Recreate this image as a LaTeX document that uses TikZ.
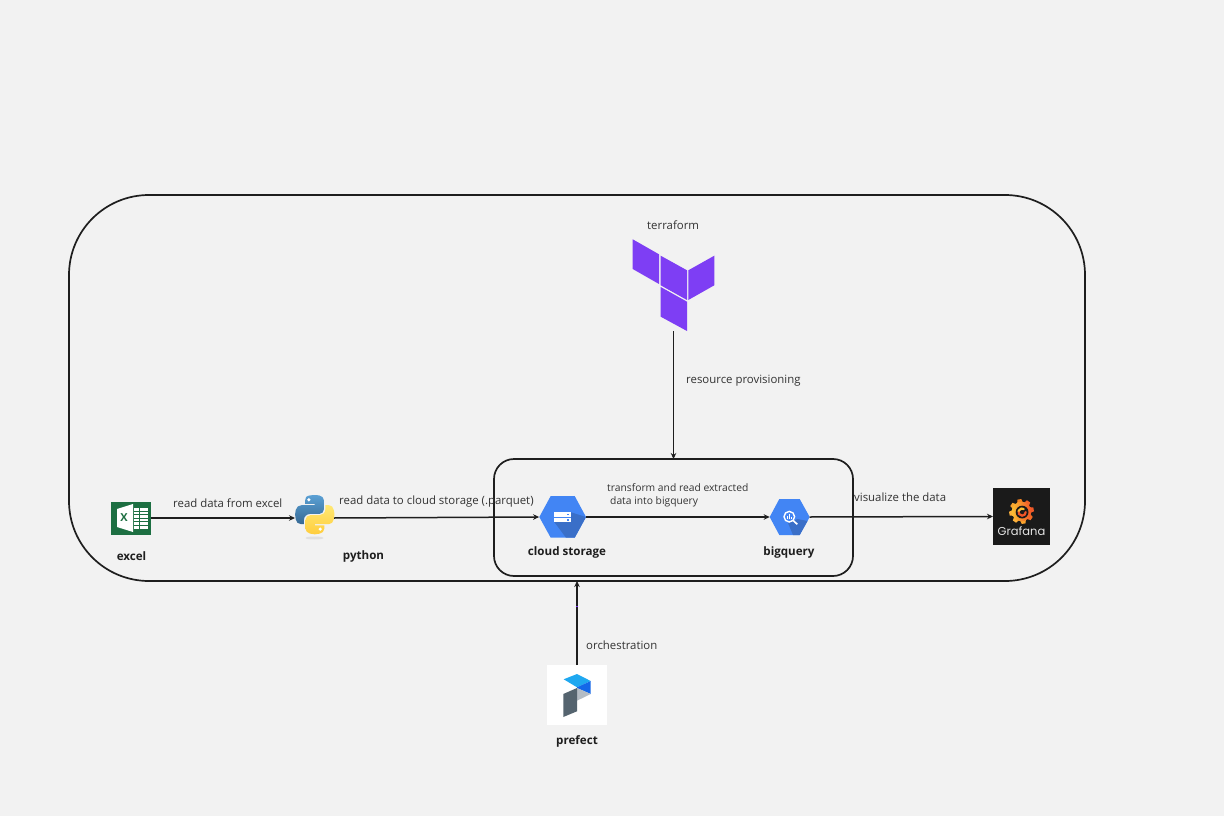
\documentclass[tikz,border=0pt]{standalone}
\usepackage{fontspec}
\setmainfont{Open Sans}
\newfontfamily\gflogo{Poppins}
\usetikzlibrary{arrows.meta}
\definecolor{bgc}{HTML}{F2F2F2}
\definecolor{ink}{HTML}{1E1E1E}
\definecolor{txt}{HTML}{333333}
\definecolor{tfp}{HTML}{7E3EF4}
\definecolor{gblue}{HTML}{4285F4}
\definecolor{gdark}{HTML}{3A6FC8}
\definecolor{xgreen}{HTML}{1D6F42}
\definecolor{gfblack}{HTML}{1A1A1A}
\definecolor{pytop}{HTML}{5AA0D4}
\definecolor{pybot}{HTML}{366994}
\definecolor{yltop}{HTML}{FFE873}
\definecolor{ylbot}{HTML}{FFCD3C}
\definecolor{gfyel}{HTML}{FBBE32}
\definecolor{gfred}{HTML}{F05528}
\definecolor{pfcyan}{HTML}{1FA8F0}
\definecolor{pfblue}{HTML}{1468E8}
\definecolor{pfgrey}{HTML}{55646F}
\definecolor{pflight}{HTML}{B4BCC4}
\tikzset{
  x=1pt,y=-1pt,
  frame/.style={draw=ink,line width=1.7pt,fill=none,inner sep=0pt,outer sep=0pt},
  slot/.style={inner sep=0pt,outer sep=0pt},
  flow/.style={draw=ink,line width=1.5pt,-{Stealth[length=6pt,width=5.5pt]}},
  lbl/.style={font=\fontsize{11.4}{13}\selectfont,text=txt,anchor=west,inner sep=0pt},
  lblsmall/.style={font=\fontsize{10.3}{13}\selectfont,text=txt,anchor=west,inner sep=0pt},
  iconcap/.style={font=\fontsize{11.6}{13}\selectfont\bfseries,text=ink,inner sep=0pt},
}
\begin{document}
\begin{tikzpicture}
\useasboundingbox[fill=bgc] (0,0) rectangle (1224,816);
% frames
\node[frame,rounded corners=80pt,minimum width=1016pt,minimum height=386pt] (outer) at (577,388) {};
\node[frame,rounded corners=20pt,minimum width=359pt,minimum height=117pt] (inner) at (673.5,517.5) {};
% slots for the icons
\node[slot,minimum width=40pt,minimum height=33pt] (excel) at (131,518) {};
\node[slot,minimum width=39pt,minimum height=40pt] (python) at (314.5,518) {};
\node[slot,minimum width=47pt,minimum height=42pt] (gcs) at (562.6,517) {};
\node[slot,minimum width=40pt,minimum height=36pt] (bq) at (789.7,517) {};
\node[slot,fill=gfblack,minimum width=57pt,minimum height=57pt] (grafana) at (1021.5,516.5) {};
\node[slot,fill=white,minimum width=60pt,minimum height=60pt] (prefect) at (577,695) {};
\node[slot,minimum width=82pt,minimum height=92pt] (tf) at (673.5,285) {};
% terraform
\fill[tfp] (632.7,239.3)--(659,254.3)--(659,284)--(632.7,269)--cycle;
\fill[tfp] (660.7,255.7)--(687,270.3)--(687,300)--(660.7,285.3)--cycle;
\fill[tfp] (688.3,270.3)--(714.3,255.7)--(714.3,285.3)--(688.3,300)--cycle;
\fill[tfp] (660.7,287)--(687,301.7)--(687,331)--(660.7,316.7)--cycle;
% excel
\fill[xgreen] (111,502) rectangle (151,534.5);
\fill[white] (117,509)--(133,504)--(133,532)--(117,527)--cycle;
\fill[white] (134,507.5) rectangle (147.5,529);
\foreach \yy in {510.5,514,517.5,521,524.5}{\fill[xgreen] (134,\yy) rectangle (147.5,\yy+1);}
\fill[xgreen] (138.5,507.5) rectangle (139.3,529);
\node[font=\fontsize{11}{11}\selectfont\bfseries,text=xgreen,inner sep=0pt] at (124,518) {X};
% python
\fill[black!12] (314.5,538) ellipse (9pt and 1.5pt);
\begin{scope}[shift={(295,495)},x=0.355pt,y=-0.355pt]
\shade[top color=pytop,bottom color=pybot]
 (54.9,0) .. controls (50.3,0) and (46,0.4) .. (42.1,1.1)
 .. controls (30.7,3.1) and (28.7,7.3) .. (28.7,15) -- (28.7,25.2) -- (55.2,25.2) -- (55.2,28.6) -- (18.7,28.6)
 .. controls (11,28.6) and (4.2,33.2) .. (2.1,42)
 .. controls (-0.3,52) and (-0.4,58.2) .. (2.1,68.6)
 .. controls (4,76.4) and (8.4,81.9) .. (16.1,81.9) -- (25.2,81.9) -- (25.2,69.9)
 .. controls (25.2,61.2) and (32.8,53.5) .. (41.7,53.5) -- (68.2,53.5)
 .. controls (75.6,53.5) and (81.5,47.4) .. (81.5,40) -- (81.5,15)
 .. controls (81.5,7.9) and (75.5,2.5) .. (68.2,1.3)
 .. controls (63.6,0.5) and (58.8,0) .. (54.9,0) -- cycle;
\fill[white] (39,13.5) circle (5);
\shade[top color=yltop,bottom color=ylbot]
 (85.6,28.7) -- (85.6,40.3) .. controls (85.6,49.3) and (78,56.9) .. (69.3,56.9) -- (42.8,56.9)
 .. controls (35.5,56.9) and (29.5,63.1) .. (29.5,70.4) -- (29.5,95.4)
 .. controls (29.5,102.5) and (35.7,106.7) .. (42.8,108.8)
 .. controls (51.2,111.3) and (59.3,111.7) .. (69.3,108.8)
 .. controls (76,106.9) and (82.5,103) .. (82.5,95.4) -- (82.5,85.2) -- (56,85.2) -- (56,81.9) -- (95.8,81.9)
 .. controls (103.5,81.9) and (106.4,76.5) .. (109,68.6)
 .. controls (111.8,60.5) and (111.7,52.6) .. (109,42)
 .. controls (107.1,34.4) and (103.5,28.7) .. (95.8,28.7) -- cycle;
\fill[white] (71,96) circle (5);
\end{scope}
% cloud storage
\fill[gblue] (539.3,517)--(550.7,496)--(574.7,496)--(586,517)--(574.7,537.7)--(550.7,537.7)--cycle;
\fill[gdark] (571,512.3)--(586,517)--(574.7,537.7)--(566,537.7)--(554.3,522)--(571,522)--cycle;
\fill[white] (554.3,512.3) rectangle (571,517);
\fill[white] (554.3,518) rectangle (571,522);
\fill[gblue] (566.5,513.6) rectangle (568.5,515.4);
\fill[gblue] (566.5,519.2) rectangle (568.5,520.8);
% bigquery
\fill[gblue] (769.7,517)--(779.3,499)--(799.7,499)--(809.7,517)--(799.7,535)--(779.3,535)--cycle;
\fill[gdark] (793,521)--(797.5,519)--(807.5,521)--(799.7,535)--(793,535)--(788,523)--cycle;
\draw[white,line width=1.4pt] (789.3,516.7) circle (5.3pt);
\draw[white,line width=1.6pt] (793.2,520.6)--(797.3,524.3);
\fill[white] (787.4,515.5) rectangle (788.3,519);
\fill[white] (789,513.5) rectangle (789.9,519);
\fill[white] (790.6,516.5) rectangle (791.5,519);
% grafana
\begin{scope}[shift={(1021.5,511.5)}]
\foreach \a/\c in {10/F05A28,55/F0642A,100/F58220,145/F9A42E,190/FBB03B,235/FBB03B,280/F9A42E,325/F26A24}{
  \definecolor{tmpc}{HTML}{\c}
  \fill[tmpc] (\a-19:9pt)--(\a-9:12.5pt)--(\a+9:12.5pt)--(\a+19:9pt)--cycle;
}
\shade[left color=gfyel,right color=gfred] (0,0) circle (9.8pt);
\fill[gfblack] (0.6,0.6) circle (6.4pt);
\draw[line width=2.2pt,gfred,line cap=round] (4.2,0.6) arc[start angle=0,end angle=-200,radius=3.6pt];
\draw[line width=2.2pt,gfyel,line cap=round] (-3,-0.6) arc[start angle=-200,end angle=-300,radius=3.6pt];
\end{scope}
\node[font=\gflogo\fontsize{11.5}{12}\selectfont,text=white!90!black,inner sep=0pt] at (1021.5,531) {Grafana};
% prefect
\fill[pfcyan] (563.7,679.3)--(577,674)--(590.7,681)--(577,687.3)--cycle;
\fill[pfblue] (577,687.3)--(590.7,681)--(590.7,694)--(577,688)--cycle;
\fill[pflight] (577,688)--(590.7,694)--(577,700.7)--cycle;
\fill[pfgrey] (563.3,694)--(577,688)--(577,711.3)--(563.3,717)--cycle;
% connectors
\draw[flow] (excel.east) -- (python.west);
\draw[flow] (python.east) -- (gcs.west);
\draw[flow] (gcs.east) -- (bq.west);
\draw[flow] (bq.east) -- (grafana.west);
\draw[flow] (tf.south) -- (inner.north);
\draw[flow] (prefect.north) -- (outer.south);
\fill[tfp] (576,605.5) rectangle (578,606.5);
% labels
\node[lbl] at (647,225.5) {terraform};
\node[lbl] at (686,380.5) {resource provisioning};
\node[lbl] at (173,503.5) {read data from excel};
\node[lbl] at (339,501.5) {read data to cloud storage (.parquet)};
\node[lblsmall] at (607,487.5) {transform and read extracted};
\node[lblsmall] at (610,501.5) {data into bigquery};
\node[lbl] at (854,497.5) {visualize the data};
\node[lbl] at (586,645.5) {orchestration};
\node[iconcap] at (131.5,556) {excel};
\node[iconcap] at (363.5,556.5) {python};
\node[iconcap] at (567,552) {cloud storage};
\node[iconcap] at (789,552) {bigquery};
\node[iconcap] at (577,741.5) {prefect};
\end{tikzpicture}
\end{document}
